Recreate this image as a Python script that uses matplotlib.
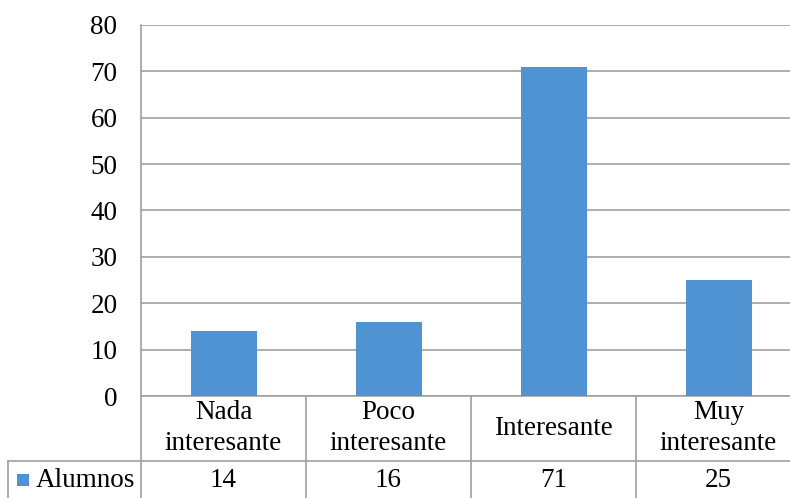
import matplotlib
matplotlib.use("Agg")
import matplotlib.pyplot as plt
import matplotlib.transforms as mtransforms
from matplotlib.patches import Rectangle

categories = ["Nada\ninteresante", "Poco\ninteresante", "Interesante", "Muy\ninteresante"]
alumnos = [14, 16, 71, 25]
series_name = "Alumnos"
y_ticks = [0, 10, 20, 30, 40, 50, 60, 70, 80]

bar_color = "#4f93d3"
line_color = "#a0a0a0"
font_size = 19.5

plt.rcParams["font.family"] = ["Liberation Serif", "DejaVu Serif"]

W, H = 790, 498
fig = plt.figure(figsize=(W / 100, H / 100), dpi=100)
fig.patch.set_facecolor("white")

# plot area in pixel terms (it runs past the right edge of the canvas)
px_left, px_right, px_top, px_bottom = 141, 801, 25, 396
ax = fig.add_axes([px_left / W, (H - px_bottom) / H,
                   (px_right - px_left) / W, (px_bottom - px_top) / H])

x = range(len(categories))
ax.bar(x, alumnos, width=0.4, color=bar_color, zorder=3)
ax.set_xlim(-0.5, len(categories) - 0.5)
ax.set_ylim(0, 80)
ax.set_yticks(y_ticks)
ax.set_yticklabels([str(t) for t in y_ticks], fontsize=font_size)
ax.tick_params(axis="y", length=0, pad=17)
ax.set_xticks([])
ax.yaxis.grid(True, color=line_color, linewidth=1.2, zorder=0)
ax.set_axisbelow(True)
for side in ("top", "right"):
    ax.spines[side].set_visible(False)
for side in ("left", "bottom"):
    ax.spines[side].set_color(line_color)
    ax.spines[side].set_linewidth(1.2)

# data table underneath the axis
ax_h = px_bottom - px_top
cat_w = (px_right - px_left) / len(categories)
def ay(py):
    return (px_bottom - py) / ax_h

row_line = ay(461)
bottom = ay(H + 2)
header_y = ay(428)
value_y = ay(480)
left_col = -0.5 - (px_left - 8) / cat_w

trans = mtransforms.blended_transform_factory(ax.transData, ax.transAxes)
lw = 1.2
# vertical separators
for xb in [-0.5 + i for i in range(len(categories) + 1)]:
    ax.plot([xb, xb], [0, bottom], color=line_color, lw=lw,
            transform=trans, clip_on=False)
ax.plot([left_col, left_col], [row_line, bottom], color=line_color, lw=lw,
        transform=trans, clip_on=False)
# horizontal row separator
ax.plot([left_col, len(categories) - 0.5], [row_line, row_line],
        color=line_color, lw=lw, transform=trans, clip_on=False)

for i, (cat, val) in enumerate(zip(categories, alumnos)):
    ax.text(i, header_y, cat, transform=trans, ha="center", va="center",
            fontsize=font_size, linespacing=1.3, clip_on=False)
    ax.text(i, value_y, str(val), transform=trans, ha="center", va="center",
            fontsize=font_size, clip_on=False)

# legend key and series name in the first column
key_px = 12
fig.patches.append(Rectangle((17 / W, (H - 486) / H), key_px / W, key_px / H,
                             transform=fig.transFigure, facecolor=bar_color,
                             edgecolor="none"))
fig.text(36 / W, (H - 480) / H, series_name, ha="left", va="center",
         fontsize=font_size)

fig.savefig("out.png", dpi=100, facecolor="white")
